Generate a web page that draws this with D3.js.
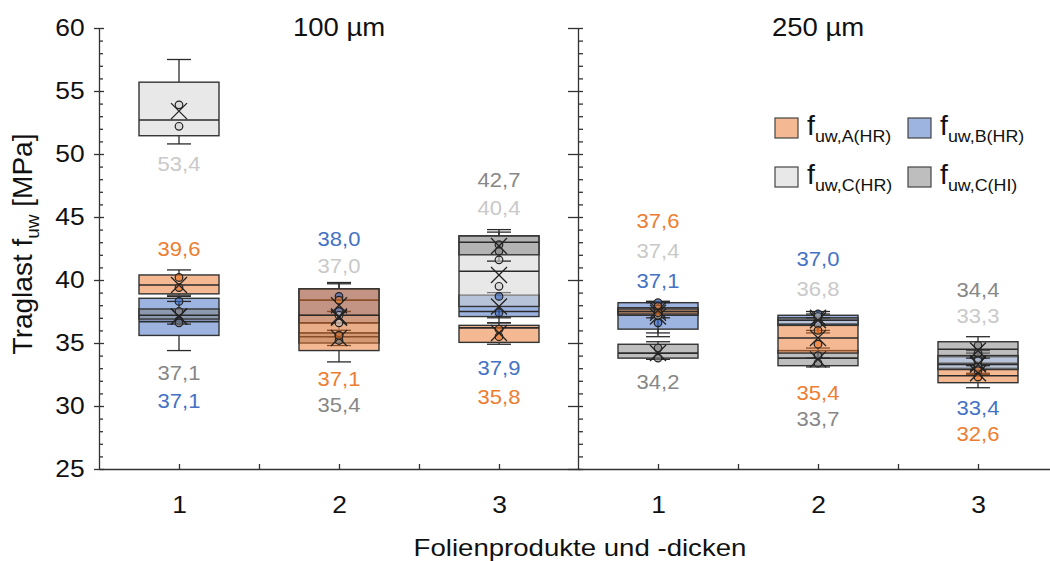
<!DOCTYPE html>
<html>
<head>
<meta charset="utf-8">
<script src="https://cdn.jsdelivr.net/npm/d3@7"></script>
<style>
  body { margin: 0; background: #fff; }
  svg { display: block; }
  text { font-family: "Liberation Sans", Arial, Helvetica, sans-serif; }
</style>
</head>
<body>
<svg id="chart" width="1050" height="561"></svg>
<script>
// ---- data -------------------------------------------------------------
const panelNames = ["100 µm", "250 µm"];
const products = ["1", "2", "3"];
const seriesNames = ["A(HR)", "B(HR)", "C(HR)", "C(HI)"];

// rows: A(HR), B(HR), C(HR), C(HI); columns: 100 µm 1..3, 250 µm 1..3
const whiskerMin = [
  [38.8, 33.5, 34.9, 37.0, 33.8, 31.45],
  [34.4, 36.0, 36.6, 35.5, 36.0, 32.6],
  [50.8, 35.5, 37.0, 35.8, 35.8, 32.5],
  [36.5, 34.8, 41.5, 33.7, 33.1, 33.8]
];
const quartile1 = [
  [38.9, 34.4, 35.05, 37.3, 34.2, 31.85],
  [35.6, 36.6, 37.1, 36.1, 36.4, 33.0],
  [51.45, 35.8, 37.9, 37.2, 36.5, 32.9],
  [36.9, 35.0, 42.0, 33.8, 33.2, 34.0]
];
const medians = [
  [39.6, 37.2, 36.2, 37.5, 35.4, 32.4],
  [36.7, 38.4, 37.5, 37.2, 36.9, 33.4],
  [52.7, 36.6, 40.7, 37.5, 36.8, 33.3],
  [37.2, 35.5, 43.0, 34.2, 33.8, 34.5]
];
const quartile3 = [
  [40.4, 39.3, 36.4, 37.7, 36.4, 32.9],
  [38.55, 39.3, 38.8, 38.2, 37.2, 33.9],
  [55.7, 37.2, 43.5, 37.8, 37.0, 34.0],
  [37.7, 35.8, 43.5, 34.9, 34.4, 35.1]
];
const whiskerMax = [
  [40.8, 39.7, 36.6, 38.3, 37.0, 33.2],
  [38.7, 39.8, 39.0, 38.3, 37.5, 34.2],
  [57.5, 37.5, 43.8, 38.2, 37.3, 34.4],
  [38.3, 36.0, 44.0, 35.1, 34.6, 35.5]
];
const means = [
  [39.6, 37.1, 35.8, 37.6, 35.4, 32.6],
  [37.1, 38.0, 37.9, 37.1, 37.0, 33.4],
  [53.4, 37.0, 40.4, 37.4, 36.8, 33.3],
  [37.1, 35.4, 42.7, 34.2, 33.7, 34.4]
];
const pointsUpper = [
  [40.2, 38.4, 36.1, 37.9, 36.0, 32.8],
  [38.3, 38.7, 38.7, 38.2, 37.3, 33.7],
  [53.9, 37.2, 41.6, 37.7, 37.1, 33.6],
  [37.5, 35.6, 42.8, 34.6, 34.0, 34.8]
];
const pointsLower = [
  [39.4, 35.6, 35.5, 37.4, 34.9, 32.3],
  [36.8, 37.5, 37.4, 36.6, 36.7, 33.2],
  [52.2, 36.6, 39.5, 37.2, 36.5, 33.1],
  [36.6, 35.2, 42.3, 33.8, 33.4, 34.2]
];
const yMajorTicks = [25, 30, 35, 40, 45, 50, 55, 60];

// ---- styling & layout --------------------------------------------------
// translucent fills: at 50 % opacity on white these give the legend tones
const fillColors = ["#E97325", "#3B69C1", "#D1D1D1", "#7D7D7D"];
const labelColors = ["#ED7D31", "#4472C4", "#C9C9C9", "#878787"];
const fillOpacity = 0.5;
const drawOrder = [1, 2, 3, 0];
const SX = 1.1; // horizontal text stretch

// value labels per box group: which series sit above / below the boxes
const labelClusters = [
  [{ side: "below", series: [2], gap: 20, step: 28 },
   { side: "above", series: [0], gap: 21, step: 28 },
   { side: "below", series: [3, 1], gap: 22, step: 28 }],
  [{ side: "above", series: [1, 2], gap: 17, step: 27 },
   { side: "below", series: [0, 3], gap: 17, step: 26 }],
  [{ side: "above", series: [3, 2], gap: 22, step: 28 },
   { side: "below", series: [1, 0], gap: 24, step: 29 }],
  [{ side: "above", series: [0, 2, 1], gap: 20, step: 30 },
   { side: "below", series: [3], gap: 23, step: 28 }],
  [{ side: "above", series: [1, 2], gap: 23, step: 30 },
   { side: "below", series: [0, 3], gap: 26, step: 26 }],
  [{ side: "above", series: [3, 2], gap: 21, step: 26 },
   { side: "below", series: [1, 0], gap: 20, step: 26 }]
];

// ---- scales ------------------------------------------------------------
const svg = d3.select("#chart");
const y = d3.scaleLinear().domain([25, 60]).range([469, 28]);
const xPanel = [
  d3.scaleLinear().domain([0.5, 3.5]).range([99, 579]),
  d3.scaleLinear().domain([0.5, 3.5]).range([578, 1058])
];
const groupX = g => xPanel[Math.floor(g / 3)]((g % 3) + 1);
const boxHalf = 40, capHalf = 12;
const fmt = v => d3.format(".1f")(v).replace(".", ",");
const minorTicks = d3.range(25, 61, 1).filter(v => v % 5 !== 0);

// ---- axes --------------------------------------------------------------
function axisStyle(g) {
  g.selectAll("path, line").attr("stroke", "#333").attr("stroke-width", 1.3);
  g.selectAll("text").attr("fill", "#111").attr("font-size", 24)
    .attr("font-family", "'Liberation Sans', Arial, sans-serif");
}

// left value axis
const gY = svg.append("g").attr("transform", "translate(99,0)");
gY.append("g")
  .call(d3.axisLeft(y).tickValues(yMajorTicks).tickSize(5).tickSizeOuter(0).tickPadding(8).tickFormat(d3.format("d")))
  .call(axisStyle)
  .call(g => g.selectAll("text").attr("transform", `scale(${SX},1)`));
gY.append("g")
  .call(d3.axisRight(y).tickValues(yMajorTicks).tickSize(5).tickFormat(""))
  .call(axisStyle).call(g => g.select(".domain").remove());
gY.append("g")
  .call(d3.axisRight(y).tickValues(minorTicks).tickSize(4).tickFormat(""))
  .call(axisStyle).call(g => g.select(".domain").remove());

// panel divider
const gD = svg.append("g").attr("transform", "translate(578,0)");
gD.append("g")
  .call(d3.axisLeft(y).tickValues(yMajorTicks).tickSize(10).tickSizeOuter(0).tickFormat(""))
  .call(axisStyle);
gD.append("g")
  .call(d3.axisRight(y).tickValues(d3.range(25, 61, 1)).tickSize(5).tickFormat(""))
  .call(axisStyle).call(g => g.select(".domain").remove());

// category axes
xPanel.forEach(xs => {
  svg.append("g").attr("transform", "translate(0,469)")
    .call(d3.axisBottom(xs).tickValues([1, 1.5, 2, 2.5, 3]).tickSize(-5).tickSizeOuter(0)
      .tickPadding(27).tickFormat(d => Number.isInteger(d) ? products[d - 1] : ""))
    .call(axisStyle)
    .call(g => g.selectAll("text").attr("transform", `scale(${SX},1)`));
});

// ---- boxes -------------------------------------------------------------
const gBoxes = svg.append("g");
d3.range(6).forEach(g => {
  const cx = groupX(g);
  drawOrder.forEach(s => {
    const b = gBoxes.append("g").attr("transform", `translate(${cx},0)`);
    const line = (x1, y1, x2, y2, w) => b.append("line")
      .attr("x1", x1).attr("y1", y1).attr("x2", x2).attr("y2", y2)
      .attr("stroke", "#2b2b2b").attr("stroke-width", w);
    // whiskers
    line(0, y(quartile3[s][g]), 0, y(whiskerMax[s][g]), 1.3);
    line(0, y(quartile1[s][g]), 0, y(whiskerMin[s][g]), 1.3);
    line(-capHalf, y(whiskerMax[s][g]), capHalf, y(whiskerMax[s][g]), 1.3);
    line(-capHalf, y(whiskerMin[s][g]), capHalf, y(whiskerMin[s][g]), 1.3);
    // box
    b.append("rect")
      .attr("x", -boxHalf).attr("width", 2 * boxHalf)
      .attr("y", y(quartile3[s][g]))
      .attr("height", y(quartile1[s][g]) - y(quartile3[s][g]))
      .attr("fill", fillColors[s]).attr("fill-opacity", fillOpacity)
      .attr("stroke", "#333").attr("stroke-width", 1.4);
    // median
    line(-boxHalf, y(medians[s][g]), boxHalf, y(medians[s][g]), 1.6);
  });
});

// markers: single values (circles) and means (crosses)
const gMarks = svg.append("g");
d3.range(6).forEach(g => {
  const cx = groupX(g);
  drawOrder.forEach(s => {
    [pointsUpper[s][g], pointsLower[s][g]].forEach(v => {
      gMarks.append("circle").attr("cx", cx).attr("cy", y(v)).attr("r", 3.8)
        .attr("fill", fillColors[s]).attr("fill-opacity", 0.6)
        .attr("stroke", "#222").attr("stroke-width", 1.2);
    });
    gMarks.append("path")
      .attr("transform", `translate(${cx},${y(means[s][g])})`)
      .attr("d", "M-8,-8L8,8M-8,8L8,-8")
      .attr("fill", "none").attr("stroke", "#222").attr("stroke-width", 1.3);
  });
});

// ---- value labels ------------------------------------------------------
const gLabels = svg.append("g");
labelClusters.forEach((clusters, g) => {
  const cx = groupX(g);
  clusters.forEach(c => {
    const n = c.series.length;
    if (c.side === "above") {
      const top = y(d3.max(c.series, s => whiskerMax[s][g]));
      c.series.forEach((s, i) => {
        gLabels.append("text")
          .attr("transform", `translate(${cx},${top - c.gap - (n - 1 - i) * c.step}) scale(${SX},1)`)
          .attr("text-anchor", "middle").attr("dy", "0.35em")
          .attr("font-size", 20).attr("fill", labelColors[s])
          .text(fmt(means[s][g]));
      });
    } else {
      const bottom = y(d3.min(c.series, s => whiskerMin[s][g]));
      c.series.forEach((s, i) => {
        gLabels.append("text")
          .attr("transform", `translate(${cx},${bottom + c.gap + i * c.step}) scale(${SX},1)`)
          .attr("text-anchor", "middle").attr("dy", "0.35em")
          .attr("font-size", 20).attr("fill", labelColors[s])
          .text(fmt(means[s][g]));
      });
    }
  });
});

// ---- titles ------------------------------------------------------------
panelNames.forEach((name, p) => {
  svg.append("text")
    .attr("transform", `translate(${xPanel[p](2)},27) scale(${SX},1)`)
    .attr("text-anchor", "middle").attr("dy", "0.35em")
    .attr("font-size", 25).attr("fill", "#111").text(name);
});

svg.append("text")
  .attr("transform", `translate(580,548) scale(1.2,1)`)
  .attr("text-anchor", "middle").attr("dy", "0.35em")
  .attr("font-size", 23).attr("fill", "#111")
  .text("Folienprodukte und -dicken");

const yTitle = svg.append("text")
  .attr("transform", `translate(32,244) rotate(-90)`)
  .attr("text-anchor", "middle")
  .attr("font-size", 28).attr("fill", "#111");
yTitle.append("tspan").text("Traglast f");
yTitle.append("tspan").attr("font-size", 19).attr("dy", 7).text("uw");
yTitle.append("tspan").attr("dy", -7).text(" [MPa]");

// ---- legend ------------------------------------------------------------
const legendCols = [775, 908], legendRows = [118, 167];
seriesNames.forEach((name, i) => {
  const lx = legendCols[i % 2], ly = legendRows[Math.floor(i / 2)];
  svg.append("rect").attr("x", lx).attr("y", ly).attr("width", 23).attr("height", 20)
    .attr("fill", fillColors[i]).attr("fill-opacity", fillOpacity)
    .attr("stroke", "#444").attr("stroke-width", 1.2);
  const t = svg.append("text")
    .attr("transform", `translate(${lx + 32},${ly + 17}) scale(1.05,1)`)
    .attr("font-size", 27).attr("fill", "#111");
  t.append("tspan").text("f");
  t.append("tspan").attr("font-size", 17).attr("dy", 7).text("uw," + name);
});
</script>
</body>
</html>
